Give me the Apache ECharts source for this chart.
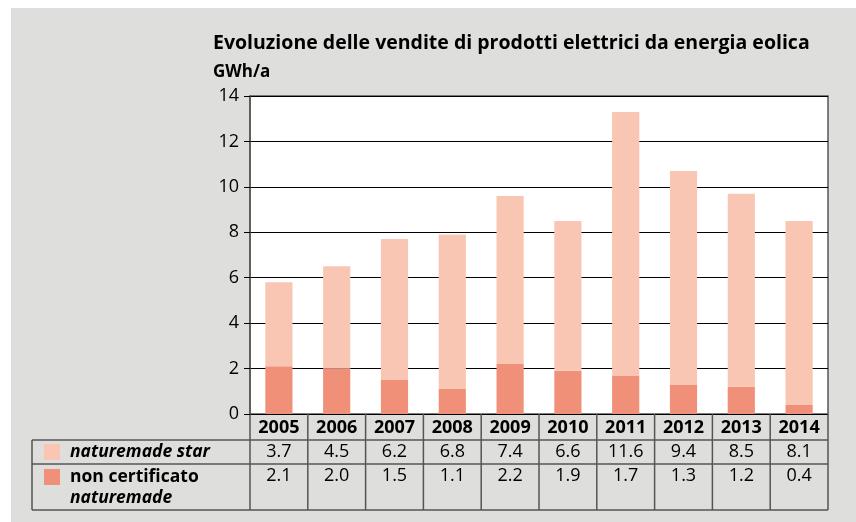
<!DOCTYPE html>
<html>
<head>
<meta charset="utf-8">
<script src="https://cdn.jsdelivr.net/npm/echarts@6/dist/echarts.min.js"></script>
<style>
	html, body { margin: 0; padding: 0; background: #fff; }
	#chart { position: absolute; left: 0; top: 0; width: 856px; height: 522px; }
</style>
</head>
<body>
<div id="chart"></div>
<script>
var years = ['2005', '2006', '2007', '2008', '2009', '2010', '2011', '2012', '2013', '2014'];
var starValues = [3.7, 4.5, 6.2, 6.8, 7.4, 6.6, 11.6, 9.4, 8.5, 8.1];
var nonCertValues = [2.1, 2.0, 1.5, 1.1, 2.2, 1.9, 1.7, 1.3, 1.2, 0.4];
var yTicks = [0, 2, 4, 6, 8, 10, 12, 14];

var FONT = '"Open Sans", "Noto Sans", sans-serif';
var colLight = '#F9C6B4';
var colDark = '#F09078';
var lineCol = '#555';

var dom = document.getElementById('chart');
var myChart = echarts.init(dom);

var option = {
	animation: false,
	backgroundColor: '#fff',
	title: {
		text: 'Evoluzione delle vendite di prodotti elettrici da energia eolica',
		left: 208, top: 28,
		textStyle: { fontFamily: FONT, fontSize: 19.5, fontWeight: 'bold', color: '#000' }
	},
	grid: {
		left: 250, right: 28, top: 96, bottom: 108,
		show: true, backgroundColor: '#fff', borderColor: lineCol, borderWidth: 1.5
	},
	xAxis: {
		type: 'category',
		data: years,
		axisLine: { show: false },
		axisTick: { show: false },
		axisLabel: { show: false }
	},
	yAxis: {
		type: 'value',
		min: yTicks[0], max: yTicks[yTicks.length - 1], interval: 2,
		name: 'GWh/a',
		nameLocation: 'end',
		nameGap: 15,
		nameTextStyle: { fontFamily: FONT, fontSize: 17, fontWeight: 'bold', color: '#000', align: 'left', padding: [0, 0, 0, -37] },
		axisLine: { show: true, lineStyle: { color: lineCol, width: 1.5 } },
		axisTick: { show: true, length: 6, lineStyle: { color: '#000' } },
		axisLabel: { fontFamily: FONT, fontSize: 18, color: '#000', margin: 11 },
		splitLine: { show: true, lineStyle: { color: '#000', width: 1 } }
	},
	series: [
		{
			name: 'non certificato naturemade', type: 'bar', stack: 'tot',
			data: nonCertValues, barWidth: '47%',
			itemStyle: { color: colDark }
		},
		{
			name: 'naturemade star', type: 'bar', stack: 'tot',
			data: starValues, barWidth: '47%',
			itemStyle: { color: colLight }
		}
	]
};
myChart.setOption(option);

// data table under the chart, columns taken from the category axis
function buildTable() {
	var g = [];
	var yTop = myChart.convertToPixel({ yAxisIndex: 0 }, 0);
	var row1 = yTop + 26, row2 = row1 + 24, row3 = row2 + 46;
	var tableLeft = 32;
	var p0 = myChart.convertToPixel({ xAxisIndex: 0 }, 0);
	var p1 = myChart.convertToPixel({ xAxisIndex: 0 }, 1);
	var band = p1 - p0;
	var firstLeft = p0 - band / 2;
	var lastRight = firstLeft + band * years.length;
	var ls = { stroke: lineCol, lineWidth: 1.5 };

	g.push({ type: 'rect', shape: { x: 11, y: 8, width: 845, height: 514 }, style: { fill: '#DEDEDC' }, z: -10 });

	[row1, row2, row3].forEach(function (y) {
		g.push({ type: 'line', shape: { x1: tableLeft, y1: y, x2: lastRight, y2: y }, style: ls });
	});
	g.push({ type: 'line', shape: { x1: tableLeft, y1: row1, x2: tableLeft, y2: row3 }, style: ls });
	for (var i = 0; i <= years.length; i++) {
		var x = firstLeft + band * i;
		g.push({ type: 'line', shape: { x1: x, y1: yTop, x2: x, y2: row3 }, style: ls });
	}
	years.forEach(function (yr, i) {
		var cx = myChart.convertToPixel({ xAxisIndex: 0 }, i);
		g.push({ type: 'text', x: cx, y: (yTop + row1) / 2 + 1, style: { text: yr, fontFamily: FONT, fontSize: 18, fontWeight: 'bold', fill: '#000', align: 'center', verticalAlign: 'middle' } });
		g.push({ type: 'text', x: cx, y: (row1 + row2) / 2, style: { text: starValues[i].toFixed(1), fontFamily: FONT, fontSize: 18, fill: '#000', align: 'center', verticalAlign: 'middle' } });
		g.push({ type: 'text', x: cx, y: row2 + 12, style: { text: nonCertValues[i].toFixed(1), fontFamily: FONT, fontSize: 18, fill: '#000', align: 'center', verticalAlign: 'middle' } });
	});

	// legend column
	g.push({ type: 'rect', shape: { x: 44, y: row1 + 4, width: 16, height: 16 }, style: { fill: colLight } });
	g.push({ type: 'rect', shape: { x: 44, y: row2 + 5, width: 16, height: 16 }, style: { fill: colDark } });
	g.push({ type: 'text', x: 70, y: (row1 + row2) / 2, style: { text: 'naturemade star', fontFamily: FONT, fontSize: 17.5, fontWeight: 'bold', fontStyle: 'italic', fill: '#000', verticalAlign: 'middle' } });
	g.push({ type: 'text', x: 70, y: row2 + 13, style: { text: 'non certificato', fontFamily: FONT, fontSize: 17.5, fontWeight: 'bold', fill: '#000', verticalAlign: 'middle' } });
	g.push({ type: 'text', x: 70, y: row2 + 34, style: { text: 'naturemade', fontFamily: FONT, fontSize: 17.5, fontWeight: 'bold', fontStyle: 'italic', fill: '#000', verticalAlign: 'middle' } });

	myChart.setOption({ graphic: g });
}
buildTable();
</script>
</body>
</html>
